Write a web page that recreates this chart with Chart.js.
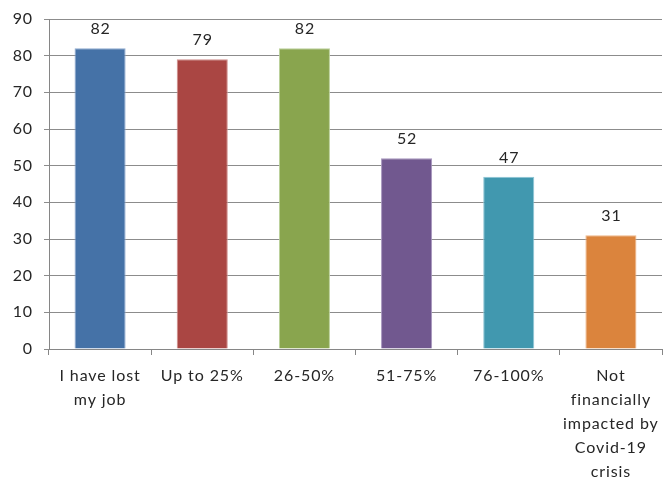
<!DOCTYPE html>
<html>
<head>
<meta charset="utf-8">
<script src="https://cdn.jsdelivr.net/npm/chart.js@4"></script>
<style>
  body { margin: 0; background: #fff; }
</style>
</head>
<body>
<canvas id="myChart" width="663" height="482"></canvas>
<script>
var categories = [
    ['I have lost', 'my job'],
    'Up to 25%',
    '26-50%',
    '51-75%',
    '76-100%',
    ['Not', 'financially', 'impacted by', 'Covid-19', 'crisis']
];
var counts = [82, 79, 82, 52, 47, 31];
var yTicks = [0, 10, 20, 30, 40, 50, 60, 70, 80, 90];

var barColors = ['#4572A7', '#AA4643', '#89A54E', '#71588F', '#4198AF', '#DB843D'];
var barEdges = ['#8FAAD0', '#D08F8D', '#BBD09A', '#A796BD', '#8CC5D5', '#EFB789'];

// slightly looser letter spacing for all text on the canvas
var spacing = {
    id: 'spacing',
    beforeLayout: function(chart) { chart.ctx.letterSpacing = '0.9px'; },
    beforeDraw: function(chart) { chart.ctx.letterSpacing = '0.9px'; }
};

// value written above each bar
var valueLabels = {
    id: 'valueLabels',
    afterDatasetsDraw: function(chart) {
        var ctx = chart.ctx;
        var meta = chart.getDatasetMeta(0);
        ctx.save();
        ctx.font = '16px Lato';
        ctx.fillStyle = '#262626';
        ctx.textAlign = 'center';
        ctx.textBaseline = 'alphabetic';
        meta.data.forEach(function(bar, i) {
            ctx.fillText(chart.data.datasets[0].data[i], bar.x + 0.5, bar.y - 14);
        });
        ctx.restore();
    }
};

function createChart() {
    var ctx = document.getElementById('myChart').getContext('2d');
    return new Chart(ctx, {
        type: 'bar',
        data: {
            labels: categories,
            datasets: [{
                data: counts,
                backgroundColor: barColors,
                borderColor: barEdges,
                borderWidth: 1,
                barPercentage: 0.5,
                categoryPercentage: 1
            }]
        },
        options: {
            responsive: false,
            animation: false,
            layout: { padding: { top: 19, right: 1, left: 0, bottom: 0 } },
            plugins: {
                legend: { display: false },
                tooltip: { enabled: false }
            },
            scales: {
                x: {
                    offset: true,
                    grid: {
                        offset: true,
                        drawOnChartArea: false,
                        drawTicks: true,
                        tickLength: 6,
                        color: '#868686'
                    },
                    border: { color: '#868686', width: 1 },
                    ticks: {
                        color: '#262626',
                        font: { family: 'Lato', size: 16, lineHeight: 1.5 },
                        padding: 9,
                        maxRotation: 0,
                        autoSkip: false
                    },
                    afterFit: function(scale) {
                        scale.height = 133;
                        scale.paddingLeft = 0;
                        scale.paddingRight = 0;
                    }
                },
                y: {
                    min: 0,
                    max: 90,
                    afterBuildTicks: function(scale) {
                        scale.ticks = yTicks.map(function(v) { return { value: v }; });
                    },
                    grid: {
                        color: '#8C8C8C',
                        tickLength: 5,
                        drawTicks: true
                    },
                    border: { color: '#868686', width: 1 },
                    ticks: {
                        color: '#262626',
                        font: { family: 'Lato', size: 16 },
                        padding: 11
                    },
                    afterFit: function(scale) {
                        scale.width = 49;
                        scale.paddingTop = 0;
                        scale.paddingBottom = 0;
                    }
                }
            }
        },
        plugins: [spacing, valueLabels]
    });
}

createChart();
</script>
</body>
</html>
